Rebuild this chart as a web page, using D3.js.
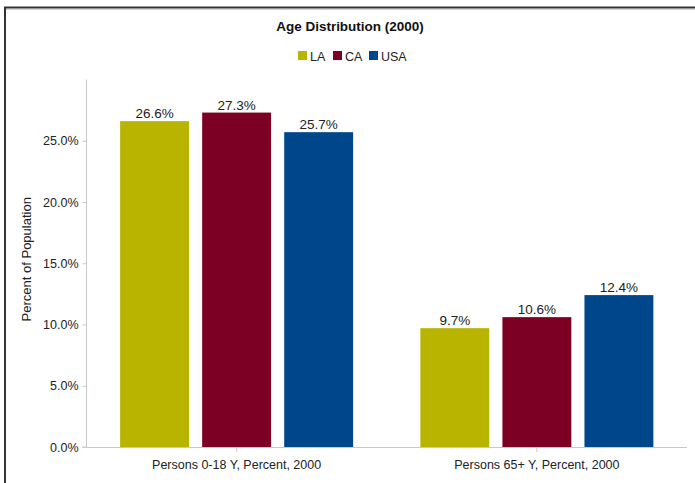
<!DOCTYPE html>
<html>
<head>
<meta charset="utf-8">
<script src="https://cdn.jsdelivr.net/npm/d3@7"></script>
<style>
  html, body { margin: 0; padding: 0; background: #fff; }
  svg { display: block; font-family: "Liberation Sans", Arial, sans-serif; }
</style>
</head>
<body>
<svg id="chart" width="695" height="483"></svg>
<script>
// Age distribution, 2000 — share of population by age group
const categories = ["Persons 0-18 Y, Percent, 2000", "Persons 65+ Y, Percent, 2000"];
const seriesNames = ["LA", "CA", "USA"];
const seriesColors = ["#b8b400", "#7b0023", "#00468a"];
const valuesLA = [26.6, 9.7];
const valuesCA = [27.3, 10.6];
const valuesUSA = [25.7, 12.4];
const yTicks = [0, 5, 10, 15, 20, 25];

const seriesValues = [valuesLA, valuesCA, valuesUSA];
const rows = categories.map((c, i) => ({
  category: c,
  values: seriesNames.map((s, j) => ({ series: s, value: seriesValues[j][i], color: seriesColors[j] }))
}));

const svg = d3.select("#chart");
const W = 695, H = 483;

// frame
svg.append("rect").attr("x", 0).attr("y", 0).attr("width", W).attr("height", H).attr("fill", "#fff");
svg.append("line").attr("x1", 5).attr("x2", W).attr("y1", 9.5).attr("y2", 9.5)
  .attr("stroke", "#d0d0d0").attr("stroke-width", 1);
svg.append("path").attr("d", `M5,${H + 5} L5,7.5 L${W + 5},7.5`)
  .attr("fill", "none").attr("stroke", "#333").attr("stroke-width", 2);

const plot = { left: 86.5, right: 687, top: 79.5, bottom: 447 };

const x0 = d3.scaleBand().domain(categories).range([plot.left, plot.right]).padding(0);
const x1 = d3.scaleBand().domain(seriesNames).range([0, x0.bandwidth()])
  .paddingInner(0.16).paddingOuter(0.41);
const y = d3.scaleLinear().domain([0, 30]).range([plot.bottom, plot.top]);

// title
svg.append("text").attr("x", 350).attr("y", 31).attr("text-anchor", "middle")
  .attr("font-size", 12.5).attr("font-weight", "bold").attr("fill", "#111")
  .attr("font-family", "'Liberation Sans Narrow', 'Liberation Sans', Arial, sans-serif")
  .attr("transform", "translate(350,0) scale(1.08,1) translate(-350,0)")
  .text("Age Distribution (2000)");

// legend
const legendX = [298, 333, 369];
const legend = svg.append("g");
seriesNames.forEach((s, i) => {
  legend.append("rect").attr("x", legendX[i]).attr("y", 51).attr("width", 9).attr("height", 9)
    .attr("fill", seriesColors[i]);
  legend.append("text").attr("x", legendX[i] + 12).attr("y", 60.5)
    .attr("font-size", 12.5).attr("fill", "#222")
    .attr("font-family", "'Liberation Sans Narrow', 'Liberation Sans', Arial, sans-serif")
    .text(s);
});

// y axis
const yAxis = d3.axisLeft(y).tickValues(yTicks).tickSize(4).tickPadding(4)
  .tickFormat(d => d.toFixed(1) + "%");
const gy = svg.append("g").attr("transform", `translate(${plot.left},0)`).call(yAxis);
gy.select(".domain").attr("stroke", "#c8c8c8").attr("d", `M-4,${plot.bottom}H0V${plot.top}`);
gy.selectAll(".tick line").attr("stroke", "#c8c8c8");
gy.selectAll(".tick text").attr("font-size", 12.5).attr("fill", "#222")
  .attr("font-family", "'Liberation Sans', Arial, sans-serif");

// y axis title
svg.append("text")
  .attr("transform", `translate(31,${(plot.top + plot.bottom) / 2 - 4}) rotate(-90)`)
  .attr("text-anchor", "middle").attr("font-size", 13).attr("fill", "#222")
  .text("Percent of Population");

// bars
const groups = svg.append("g").selectAll("g").data(rows).join("g")
  .attr("transform", d => `translate(${x0(d.category)},0)`);
groups.selectAll("rect").data(d => d.values).join("rect")
  .attr("x", d => x1(d.series))
  .attr("y", d => y(d.value))
  .attr("width", x1.bandwidth())
  .attr("height", d => y(0) - y(d.value))
  .attr("fill", d => d.color);
groups.selectAll("text").data(d => d.values).join("text")
  .attr("x", d => x1(d.series) + x1.bandwidth() / 2)
  .attr("y", d => y(d.value) - 3)
  .attr("text-anchor", "middle").attr("font-size", 13.5).attr("fill", "#222")
  .text(d => d.value.toFixed(1) + "%");

// x axis
const xAxis = d3.axisBottom(x0).tickSize(5).tickPadding(8);
const gx = svg.append("g").attr("transform", `translate(0,${plot.bottom})`).call(xAxis);
gx.select(".domain").attr("stroke", "#c8c8c8").attr("d", `M${plot.left},0.5H${plot.right}`);
gx.selectAll(".tick line").attr("stroke", "#c8c8c8");
gx.selectAll(".tick text").attr("font-size", 12.5).attr("fill", "#222")
  .attr("font-family", "'Liberation Sans', Arial, sans-serif");
</script>
</body>
</html>
